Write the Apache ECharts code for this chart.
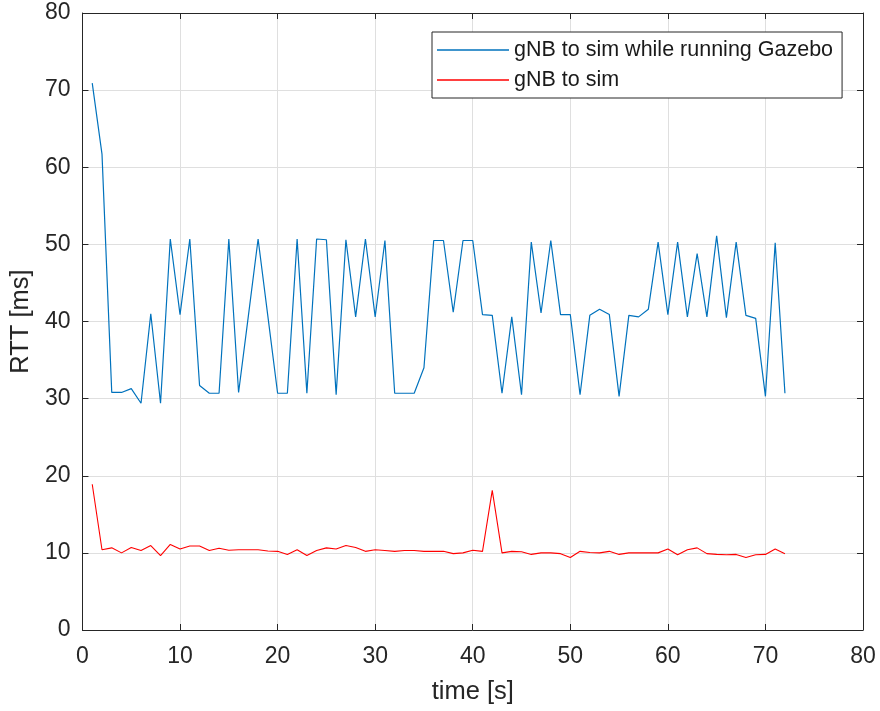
<!DOCTYPE html>
<html>
<head>
<meta charset="utf-8">
<script src="https://cdn.jsdelivr.net/npm/echarts@6/dist/echarts.min.js"></script>
<style>
  html, body { margin: 0; padding: 0; background: #fff; }
  #chart { width: 880px; height: 711px; }
</style>
</head>
<body>
<div id="chart"></div>
<script>
// Sample times (seconds)
const time = [1, 2, 3, 4, 5, 6, 7, 8, 9, 10, 11, 12, 13, 14, 15, 16, 17, 18, 19, 20,
  21, 22, 23, 24, 25, 26, 27, 28, 29, 30, 31, 32, 33, 34, 35, 36, 37, 38, 39, 40,
  41, 42, 43, 44, 45, 46, 47, 48, 49, 50, 51, 52, 53, 54, 55, 56, 57, 58, 59, 60,
  61, 62, 63, 64, 65, 66, 67, 68, 69, 70, 71, 72];

// Round-trip time with Gazebo running (ms)
const rttGazebo = [70.9, 61.7, 30.8, 30.8, 31.3, 29.4, 41.0, 29.4, 50.7, 40.9,
  50.7, 31.7, 30.7, 30.7, 50.7, 30.8, 40.7, 50.7, 40.7, 30.7,
  30.7, 50.7, 30.7, 50.7, 50.6, 30.5, 50.6, 40.6, 50.7, 40.6,
  50.5, 30.7, 30.7, 30.7, 34.0, 50.5, 50.5, 41.2, 50.5, 50.5,
  40.9, 40.8, 30.7, 40.6, 30.5, 50.3, 41.1, 50.5, 40.9, 40.9,
  30.5, 40.8, 41.6, 40.9, 30.3, 40.8, 40.6, 41.6, 50.3, 40.9,
  50.3, 40.6, 48.8, 40.6, 51.1, 40.5, 50.3, 40.8, 40.4, 30.3,
  50.2, 30.7];

// Round-trip time without Gazebo (ms)
const rttPlain = [18.9, 10.4, 10.65, 10.0, 10.7, 10.3, 10.95, 9.65, 11.1, 10.5,
  10.9, 10.9, 10.3, 10.6, 10.35, 10.4, 10.4, 10.4, 10.25, 10.2,
  9.8, 10.4, 9.65, 10.3, 10.65, 10.5, 10.95, 10.7, 10.2, 10.4,
  10.3, 10.2, 10.3, 10.3, 10.2, 10.2, 10.2, 9.9, 10.0, 10.35,
  10.2, 18.1, 10.0, 10.2, 10.15, 9.8, 10.0, 10.0, 9.9, 9.4,
  10.2, 10.05, 10.0, 10.2, 9.8, 10.0, 10.0, 10.0, 10.0, 10.5,
  9.75, 10.4, 10.65, 9.9, 9.8, 9.75, 9.8, 9.4, 9.75, 9.8,
  10.5, 9.9];

const seriesNames = ['gNB to sim while running Gazebo', 'gNB to sim'];
const xTicks = { min: 0, max: 80, interval: 10 };
const yTicks = { min: 0, max: 80, interval: 10 };

const FONT = '"Liberation Sans", Arial, Helvetica, sans-serif';
const INK = '#262626';

const pairs = (xs, ys) => xs.map((x, i) => [x, ys[i]]);

const chart = echarts.init(document.getElementById('chart'), null, { renderer: 'canvas' });

// Plain axis used to close the box on the top and right sides
const frameAxis = (extra) => Object.assign({
  type: 'value',
  axisLine: { show: true, onZero: false, lineStyle: { color: INK, width: 1 } },
  axisTick: { show: true, inside: true, length: 6, lineStyle: { color: INK } },
  axisLabel: { show: false },
  splitLine: { show: false }
}, extra);

chart.setOption({
  animation: false,
  backgroundColor: '#ffffff',
  grid: { left: 82, right: 17, top: 13, bottom: 81, containLabel: false },
  legend: {
    orient: 'vertical',
    left: 432,
    top: 32,
    padding: [7, 9, 7, 5],
    itemGap: 8,
    itemWidth: 72,
    itemHeight: 1.5,
    icon: 'rect',
    borderColor: INK,
    borderWidth: 1,
    backgroundColor: '#ffffff',
    textStyle: { fontFamily: FONT, fontSize: 21.5, color: '#1a1a1a', lineHeight: 22 },
    data: seriesNames
  },
  xAxis: [
    frameAxis({
      position: 'bottom',
      min: xTicks.min, max: xTicks.max, interval: xTicks.interval,
      name: 'time [s]',
      nameLocation: 'middle',
      nameGap: 49,
      nameTextStyle: { fontFamily: FONT, fontSize: 25.5, color: INK },
      axisLabel: { show: true, margin: 15, fontFamily: FONT, fontSize: 23, color: INK },
      splitLine: { show: true, lineStyle: { color: '#dfdfdf', width: 1 } }
    }),
    frameAxis({ position: 'top', min: xTicks.min, max: xTicks.max, interval: xTicks.interval })
  ],
  yAxis: [
    frameAxis({
      position: 'left',
      min: yTicks.min, max: yTicks.max, interval: yTicks.interval,
      name: 'RTT [ms]',
      nameLocation: 'middle',
      nameGap: 48,
      nameTextStyle: { fontFamily: FONT, fontSize: 25.5, color: INK },
      axisLabel: { show: true, margin: 12, fontFamily: FONT, fontSize: 23, color: INK },
      splitLine: { show: true, lineStyle: { color: '#dfdfdf', width: 1 } }
    }),
    frameAxis({ position: 'right', min: yTicks.min, max: yTicks.max, interval: yTicks.interval })
  ],
  series: [
    {
      name: seriesNames[0],
      type: 'line',
      xAxisIndex: 0, yAxisIndex: 0,
      data: pairs(time, rttGazebo),
      symbol: 'none',
      showSymbol: false,
      lineStyle: { color: '#0072BD', width: 1.2 },
      itemStyle: { color: '#0072BD' },
      z: 3
    },
    {
      name: seriesNames[1],
      type: 'line',
      xAxisIndex: 0, yAxisIndex: 0,
      data: pairs(time, rttPlain),
      symbol: 'none',
      showSymbol: false,
      lineStyle: { color: '#FF0000', width: 1.1 },
      itemStyle: { color: '#FF0000' },
      z: 3
    }
  ]
});
</script>
</body>
</html>
